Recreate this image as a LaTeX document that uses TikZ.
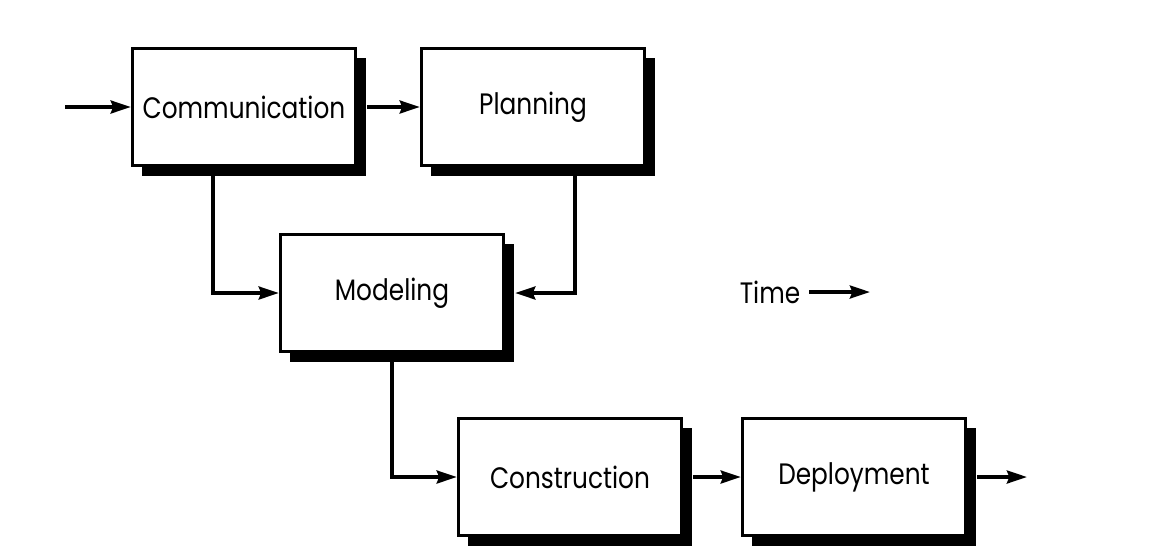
\documentclass[tikz,border=0pt]{standalone}
\usepackage{fontspec}
\setmainfont{Poppins}[FakeStretch=0.84]
\usetikzlibrary{arrows.meta,shadows}

\tikzset{
  phase/.style={draw,line width=2.2pt,fill=white,minimum width=5.58cm,minimum height=2.93cm,
    drop shadow={shadow xshift=0.25cm,shadow yshift=-0.25cm,fill=black,opacity=1}},
  flow/.style={line width=2.7pt,-{Stealth[length=0.5cm,width=0.32cm,inset=0.06cm]}}
}

\begin{document}
\begin{tikzpicture}[x=0.025cm,y=-0.025cm,font=\fontsize{21}{25}\selectfont]
    \useasboundingbox (0,0) rectangle (1154,554);

    % Phase boxes
    \node at (244, 107) [phase] (comm) {Communication};
    \node at (533, 107) [phase] (plan) {Planning};
    \node at (392, 293) [phase] (model) {Modeling};
    \node at (570, 477) [phase] (constr) {Construction};
    \node at (854, 477) [phase] (deploy) {Deployment};
    \node at (770, 292) (time) {Time};

    % Free ends
    \coordinate (in) at (65, 107);
    \coordinate (out) at (1027, 477);
    \coordinate (timeend) at (870, 292);

    % Arrows
    \draw[flow] (in) -- (comm);
    \draw[flow] ([xshift=0.25cm]comm.east) -- (plan.west);
    \draw[flow] ([xshift=-0.78cm]comm.south) |- (model.west);
    \draw[flow] ([xshift=1.04cm]plan.south) |- ([xshift=0.25cm]model.east);
    \draw[flow] (model.south) |- (constr.west);
    \draw[flow] ([xshift=0.25cm]constr.east) -- (deploy.west);
    \draw[flow] ([xshift=0.25cm]deploy.east) -- (out);
    \draw[flow] ([xshift=0.1cm]time.east) -- (timeend);
\end{tikzpicture}
\end{document}
